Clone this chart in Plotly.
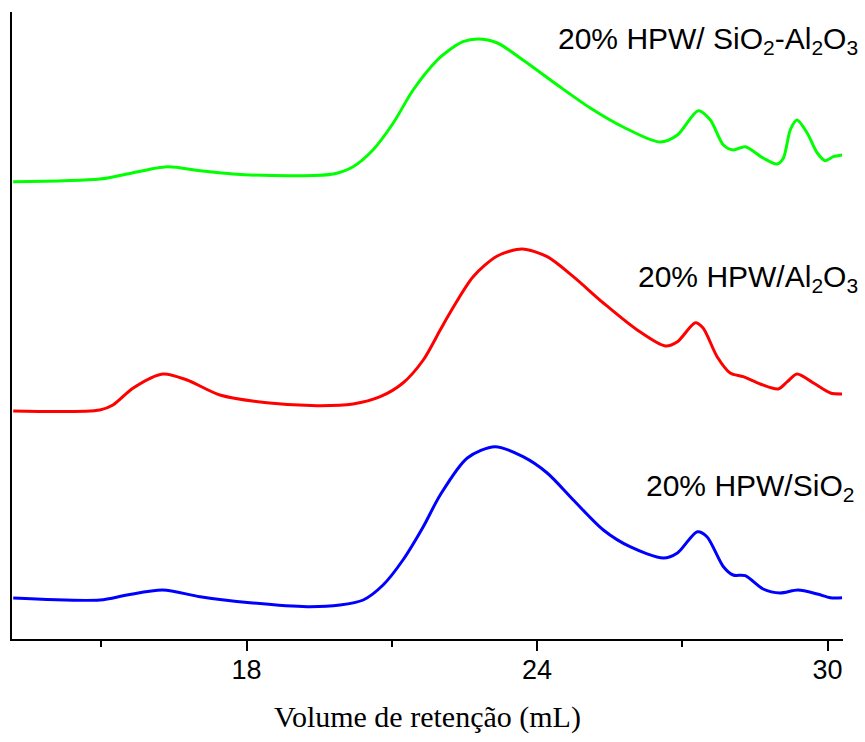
import plotly.graph_objects as go

# Retention volume (mL) and detector response (a.u., relative to each baseline)
sial_x = [13.18, 14.97, 15.53, 16.36, 17.04, 17.72, 19.11, 19.79, 20.20, 20.61,
          21.03, 21.44, 21.94, 22.14, 22.47, 22.78, 23.18, 23.71, 24.42, 25.10,
          25.78, 26.54, 26.90, 27.33, 27.58, 27.85, 28.05, 28.30, 28.67, 28.96,
          29.09, 29.23, 29.37, 29.58, 29.79, 29.95, 30.12, 30.30]
sial_y = [0.3, 3, 8, 15.3, 11.3, 8, 6.3, 8, 15.3, 32,
          59, 92, 122, 130.3, 140.3, 143, 139, 122, 97, 74,
          55, 40, 47, 71.3, 62, 37, 32, 35.3, 24, 18,
          24, 52, 62, 49, 29, 21.3, 25.3, 27]

al_x = [13.18, 14.97, 15.24, 15.66, 16.27, 16.77, 17.45, 18.42, 19.46, 20.20,
        20.76, 21.23, 21.65, 22.00, 22.20, 22.68, 23.18, 23.69, 24.21,
        24.75, 25.37, 26.07, 26.65, 26.90, 27.27, 27.43, 27.72, 27.99, 28.26,
        28.61, 28.98, 29.17, 29.37, 29.71, 30.06, 30.30]
al_y = [0, 1, 6, 23, 37, 31, 16, 8.3, 5.3, 7,
        14.3, 28, 51, 81, 98, 134.3, 155, 162, 154.3,
        134.3, 108, 81, 65, 69.3, 88.3, 83, 54.3, 38, 34.3,
        27, 22, 29.3, 37, 28, 18, 17]

si_x = [13.18, 14.97, 15.53, 16.27, 17.04, 18.07, 19.25, 19.93, 20.41, 20.82,
        21.23, 21.65, 22.00, 22.56, 23.13, 23.71, 24.21, 24.75,
        25.37, 25.92, 26.61, 26.90, 27.31, 27.51, 27.85, 28.05, 28.30, 28.67,
        29.02, 29.39, 29.79, 30.06, 30.30]
si_y = [1, -1, 4, 9, 2.3, -3.7, -7.7, -6, -1, 14,
        39, 72.3, 104, 141, 152.3, 142.3, 126, 99,
        69, 52.3, 41, 46, 67.3, 62.3, 32.3, 24, 23.3, 10,
        6, 9, 5, 1.3, 1.3]

# Vertical offsets used to stack the three chromatograms
offsets = {"sial": 457, "al": 228, "si": 40}

labels = ["20% HPW/ SiO<sub>2</sub>-Al<sub>2</sub>O<sub>3</sub>",
          "20% HPW/Al<sub>2</sub>O<sub>3</sub>",
          "20% HPW/SiO<sub>2</sub>"]

x_ticks = [18, 24, 30]
x_minor = [15, 21, 27]

fig = go.Figure()
series = [
    (sial_x, sial_y, offsets["sial"], "#00FF00"),
    (al_x, al_y, offsets["al"], "#FF0000"),
    (si_x, si_y, offsets["si"], "#0000FF"),
]
for xs, ys, off, col in series:
    fig.add_trace(go.Scatter(
        x=xs, y=[v + off for v in ys], mode="lines",
        line=dict(color=col, width=3, shape="spline", smoothing=0.8),
        showlegend=False, hoverinfo="skip"))

label_pos = [(1.02, 0.955), (1.02, 0.575), (1.0155, 0.242)]
for text, (ax, ay) in zip(labels, label_pos):
    fig.add_annotation(
        text=text, xref="paper", yref="paper", x=ax, y=ay,
        xanchor="right", yanchor="middle", showarrow=False,
        font=dict(family="Liberation Sans, Arial, sans-serif", size=30, color="black"))

fig.update_layout(
    width=865, height=742,
    margin=dict(l=12, r=22, t=12, b=103),
    paper_bgcolor="white", plot_bgcolor="white",
    xaxis=dict(
        range=[13.155, 30.32], showgrid=False, zeroline=False,
        showline=True, linecolor="black", linewidth=2,
        tickvals=x_ticks, ticktext=[str(t) for t in x_ticks],
        ticks="outside", ticklen=10, tickwidth=2, tickcolor="black",
        ticklabelstandoff=-4,
        tickfont=dict(family="Liberation Sans Narrow, Arial Narrow, Liberation Sans, Arial",
                      size=27, color="black"),
        minor=dict(tickvals=x_minor, ticks="outside", ticklen=6,
                   tickwidth=2, tickcolor="black", showgrid=False),
        title=dict(text="Volume de retenção (mL)", standoff=22,
                   font=dict(family="Liberation Serif, Times New Roman, serif",
                             size=30, color="black")),
    ),
    yaxis=dict(
        range=[0, 627], showgrid=False, zeroline=False,
        showline=True, linecolor="black", linewidth=2,
        showticklabels=False, ticks="",
    ),
)

fig.write_html("out.html")
